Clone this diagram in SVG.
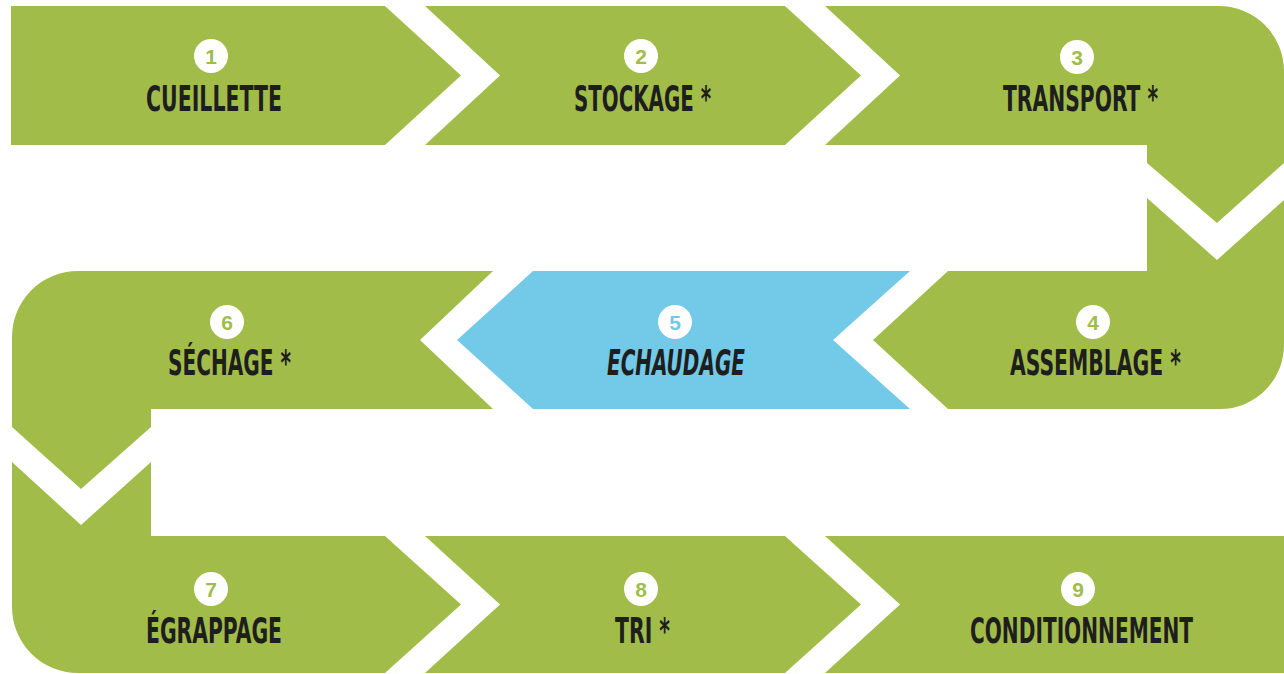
<svg xmlns="http://www.w3.org/2000/svg" width="1284" height="674" viewBox="0 0 1284 674">
<style>
.g{fill:#A2BC4A}
.b{fill:#72C9E8}
.lbl{font-family:"Liberation Sans Narrow","DejaVu Sans Condensed","Liberation Sans",Arial,sans-serif;font-weight:bold;font-size:36px;fill:#1E1E1E}
.it{font-style:italic}
.c{fill:#FFFFFF}
.n{font-family:"Liberation Sans","DejaVu Sans",Arial,sans-serif;font-weight:bold;font-size:21px;text-anchor:middle;fill:#A2BC4A}
.nb{fill:#72C9E8}
</style>
<rect width="1284" height="674" fill="#FFFFFF"/>
<g id="step1">
<polygon class="g" points="11,6 385,6 461,75.5 385,145 11,145"/>
<circle class="c" cx="211" cy="56" r="17"/><text class="n" x="211" y="63.5">1</text>
<text class="lbl" x="146" y="111" textLength="136" lengthAdjust="spacingAndGlyphs">CUEILLETTE</text>
</g>
<g id="step2">
<polygon class="g" points="425,6 785,6 861,75.5 785,145 425,145 500,75.5"/>
<circle class="c" cx="641" cy="56" r="17"/><text class="n" x="641" y="63.5">2</text>
<text class="lbl" x="574" y="111" textLength="137" lengthAdjust="spacingAndGlyphs">STOCKAGE *</text>
</g>
<g id="step3">
<path class="g" d="M825,6 L1219,6 A65,65 0 0 1 1284,71 L1284,163 L1217,223 L1147,163 L1147,145 L825,145 L900,75.5 Z"/>
<circle class="c" cx="1077" cy="57" r="17"/><text class="n" x="1077" y="64.5">3</text>
<text class="lbl" x="1003" y="111" textLength="155" lengthAdjust="spacingAndGlyphs">TRANSPORT *</text>
</g>
<g id="step4">
<path class="g" d="M948,271 L1147,271 L1147,198 L1217,260 L1284,200 L1284,345 A64,64 0 0 1 1220,409 L948,409 L873,340 Z"/>
<circle class="c" cx="1093" cy="322" r="17"/><text class="n" x="1093" y="329.5">4</text>
<text class="lbl" x="1010" y="375" textLength="171" lengthAdjust="spacingAndGlyphs">ASSEMBLAGE *</text>
</g>
<g id="step5">
<polygon class="b" points="533,271 910,271 833,340 910,409 533,409 457,340"/>
<circle class="c" cx="675" cy="322" r="17"/><text class="n nb" x="675" y="329.5">5</text>
<text class="lbl it" x="607" y="375" textLength="138" lengthAdjust="spacingAndGlyphs">ECHAUDAGE</text>
</g>
<g id="step6">
<path class="g" d="M493,271 L78,271 A66,66 0 0 0 12,337 L12,427 L81,489 L151,427 L151,409 L493,409 L420,340 Z"/>
<circle class="c" cx="227" cy="322" r="17"/><text class="n" x="227" y="329.5">6</text>
<text class="lbl" x="168" y="375" textLength="123" lengthAdjust="spacingAndGlyphs">SÉCHAGE *</text>
</g>
<g id="step7">
<path class="g" d="M12,462 L81,525 L151,462 L151,536 L385,536 L461,604.5 L385,673 L78,673 A66,66 0 0 1 12,607 Z"/>
<circle class="c" cx="211" cy="589" r="17"/><text class="n" x="211" y="596.5">7</text>
<text class="lbl" x="146" y="643" textLength="136" lengthAdjust="spacingAndGlyphs">ÉGRAPPAGE</text>
</g>
<g id="step8">
<polygon class="g" points="425,536 785,536 861,604.5 785,673 425,673 500,604.5"/>
<circle class="c" cx="641" cy="589" r="17"/><text class="n" x="641" y="596.5">8</text>
<text class="lbl" x="615" y="643" textLength="55" lengthAdjust="spacingAndGlyphs">TRI *</text>
</g>
<g id="step9">
<polygon class="g" points="825,536 1284,536 1284,673 825,673 900,604.5"/>
<circle class="c" cx="1078" cy="589" r="17"/><text class="n" x="1078" y="596.5">9</text>
<text class="lbl" x="970" y="643" textLength="223" lengthAdjust="spacingAndGlyphs">CONDITIONNEMENT</text>
</g>
<g id="connectors"></g>
</svg>
